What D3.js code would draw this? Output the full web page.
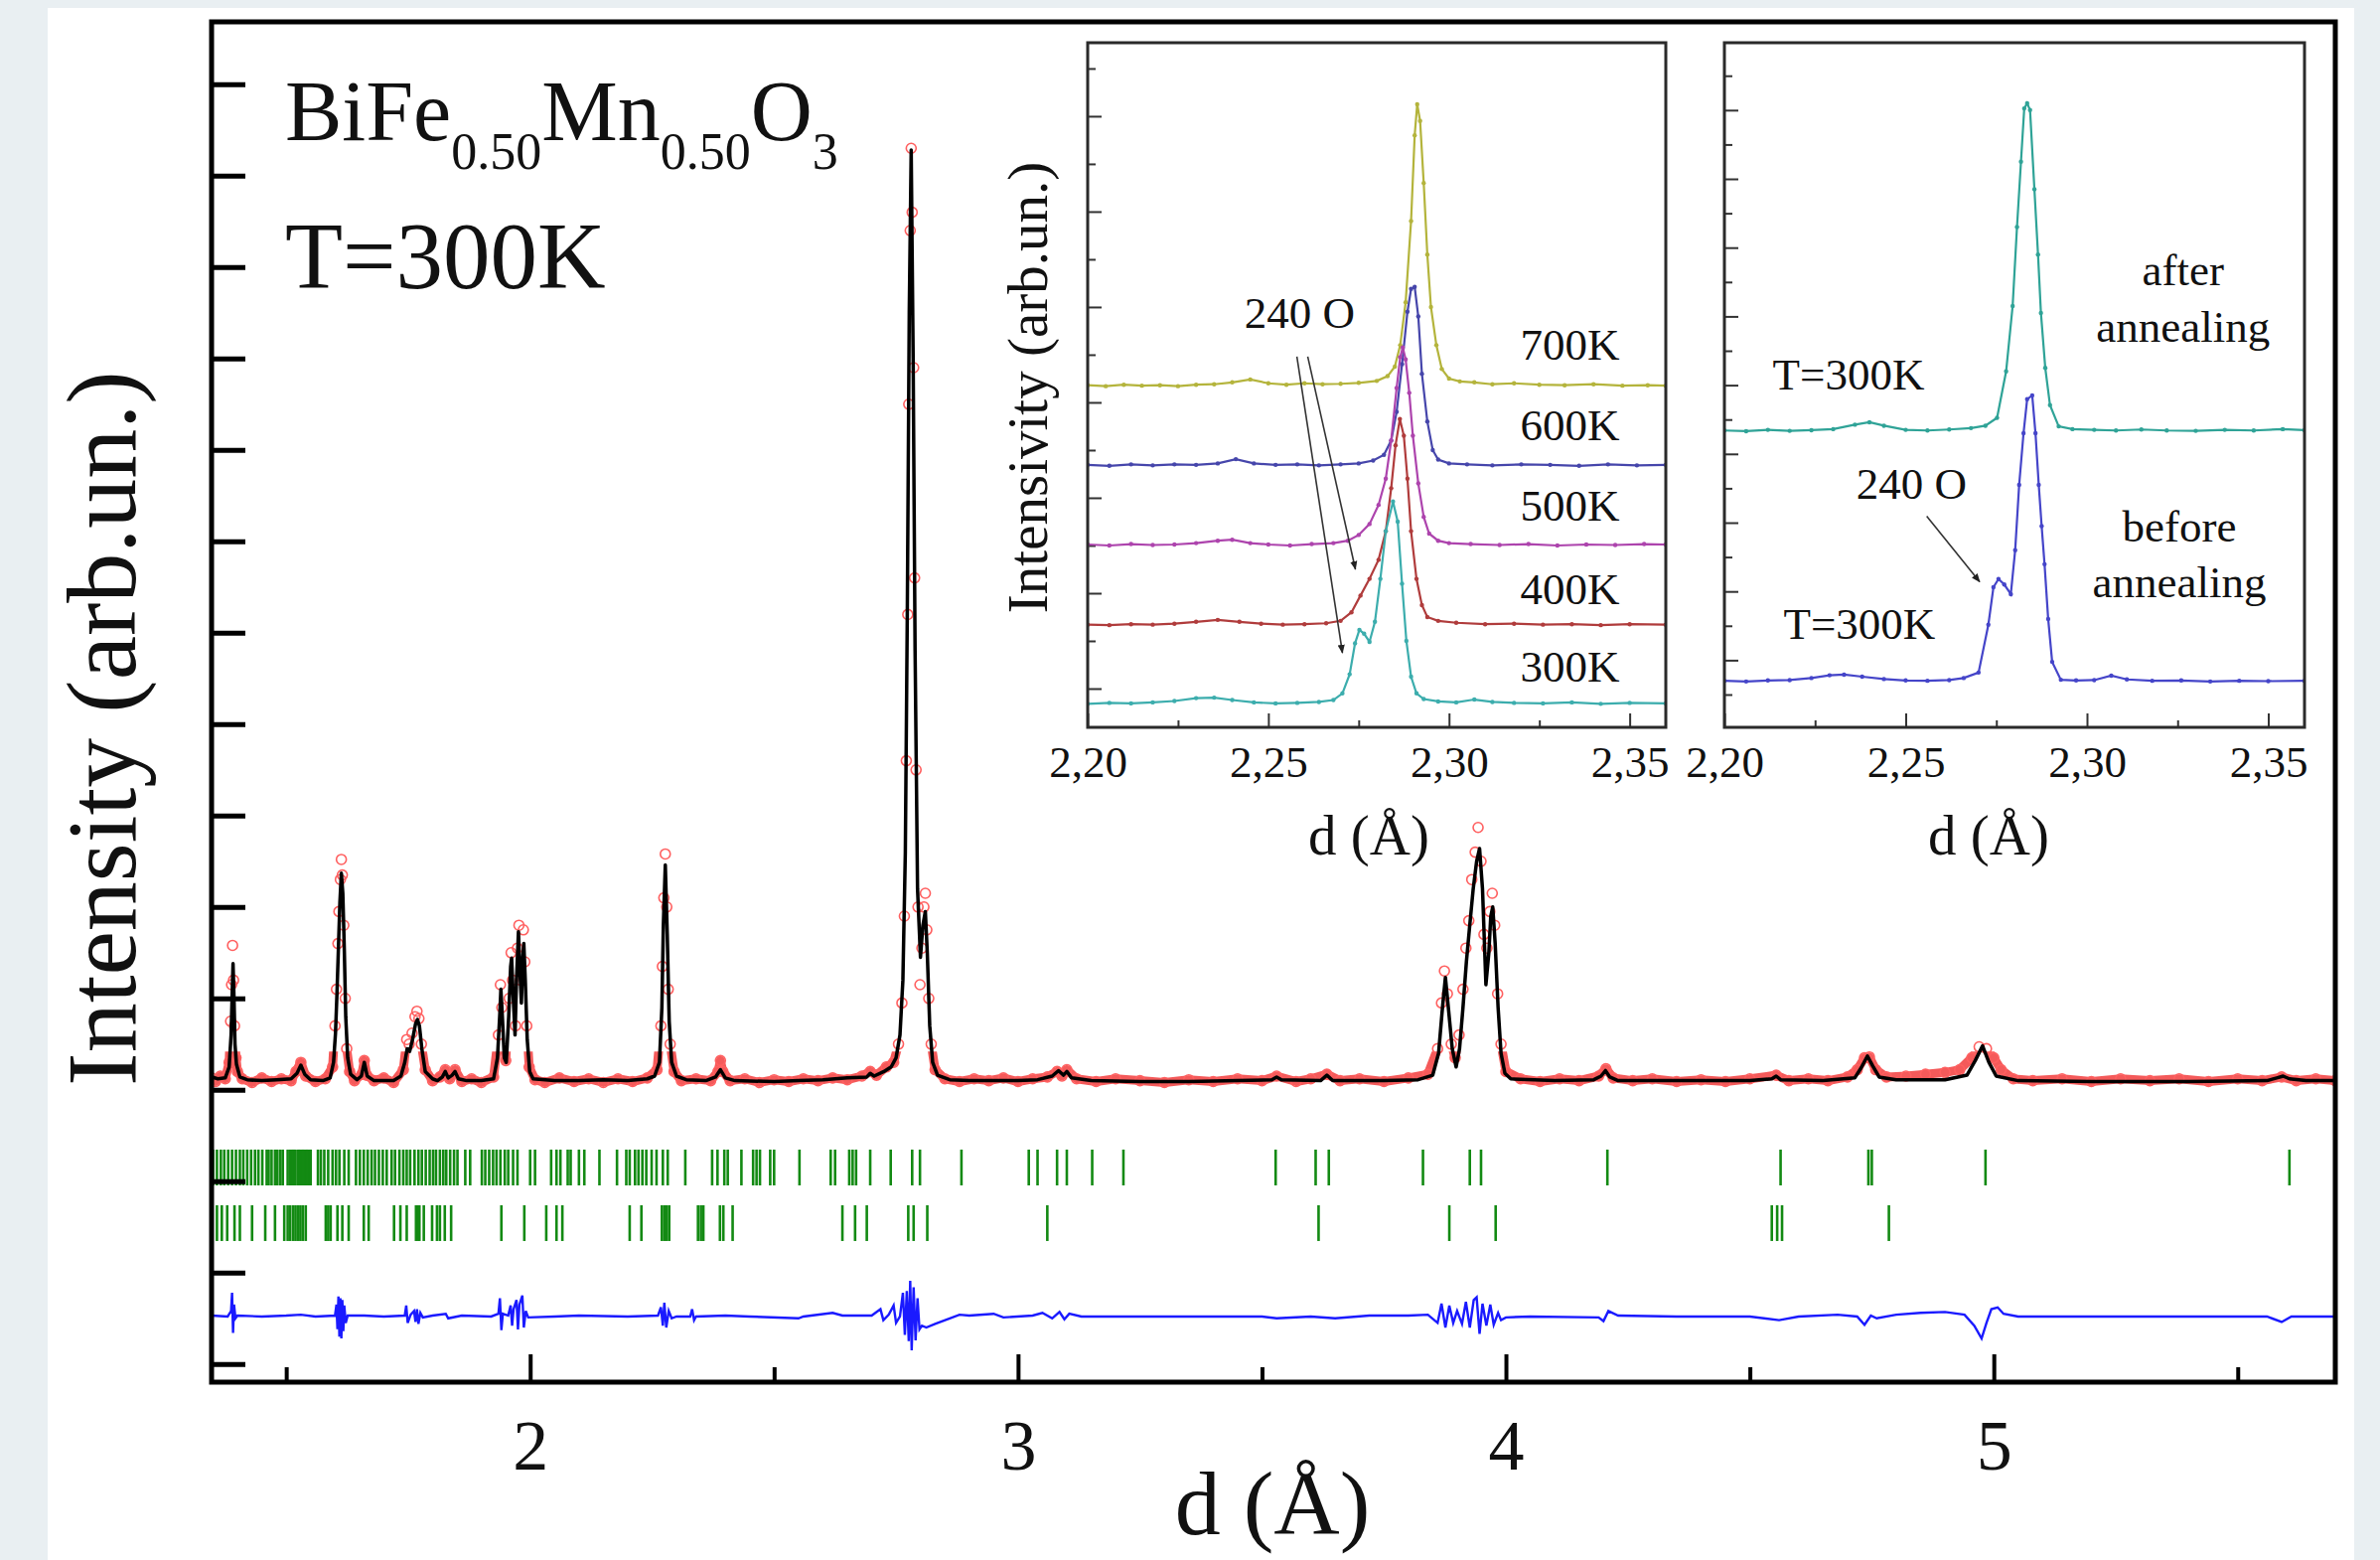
<!DOCTYPE html>
<html>
<head>
<meta charset="utf-8">
<script src="https://cdn.jsdelivr.net/npm/d3@7"></script>
<style>
  html, body { margin: 0; padding: 0; background: #e9eff2; }
  svg { display: block; }
  text { font-family: "Liberation Serif", "Times New Roman", serif; fill: #111; }
</style>
</head>
<body>
<script>

// DATA
// --------------------------------------------------------------------------

// Main pattern, [d (A), intensity]. Calculated profile (black line).
var calcPattern = [
  [1.347,0.14],[1.36,0.12],[1.375,0.13],[1.383,0.25],[1.387,0.6],[1.389,1.0],
  [1.391,1.38],[1.393,1.0],[1.395,0.5],[1.398,0.28],[1.401,0.22],[1.405,0.14],
  [1.42,0.11],[1.45,0.1],[1.48,0.11],[1.51,0.12],[1.522,0.18],[1.53,0.27],
  [1.538,0.17],[1.55,0.11],[1.575,0.1],[1.59,0.13],[1.597,0.3],[1.601,0.62],
  [1.604,1.05],[1.607,1.55],[1.61,2.05],[1.613,2.37],[1.616,2.15],[1.619,1.55],
  [1.622,0.8],[1.626,0.35],[1.632,0.17],[1.645,0.11],[1.654,0.15],[1.66,0.3],
  [1.666,0.15],[1.68,0.1],[1.72,0.1],[1.735,0.15],[1.743,0.3],[1.748,0.45],
  [1.753,0.42],[1.759,0.55],[1.765,0.72],[1.769,0.77],[1.773,0.7],[1.778,0.45],
  [1.785,0.2],[1.8,0.12],[1.81,0.1],[1.82,0.14],[1.826,0.2],[1.832,0.13],
  [1.84,0.16],[1.846,0.2],[1.853,0.12],[1.87,0.1],[1.9,0.1],[1.925,0.12],
  [1.933,0.35],[1.938,0.85],[1.94,1.1],[1.943,0.8],[1.947,0.35],[1.951,0.3],
  [1.956,0.8],[1.96,1.35],[1.962,1.44],[1.965,1.05],[1.969,0.6],[1.972,1.2],
  [1.976,1.73],[1.979,1.3],[1.982,0.95],[1.985,1.45],[1.987,1.6],[1.99,1.2],
  [1.994,0.55],[1.999,0.2],[2.006,0.12],[2.05,0.1],[2.1,0.1],[2.15,0.11],
  [2.2,0.1],[2.24,0.12],[2.255,0.15],[2.265,0.3],[2.27,0.9],[2.273,1.8],
  [2.277,2.46],[2.281,1.7],[2.285,0.75],[2.29,0.3],[2.3,0.15],[2.32,0.11],
  [2.36,0.1],[2.38,0.14],[2.39,0.22],[2.4,0.13],[2.42,0.1],[2.5,0.09],
  [2.55,0.1],[2.6,0.11],[2.65,0.13],[2.69,0.14],[2.697,0.18],[2.705,0.15],
  [2.725,0.2],[2.74,0.25],[2.75,0.35],[2.758,0.6],[2.764,1.2],[2.769,2.6],
  [2.773,5.2],[2.777,8.5],[2.781,10.28],[2.785,8.0],[2.789,4.8],[2.794,2.2],
  [2.8,1.45],[2.805,1.8],[2.81,1.95],[2.814,1.5],[2.819,0.7],[2.825,0.3],
  [2.835,0.16],[2.86,0.11],[2.9,0.1],[2.95,0.1],[3.0,0.1],[3.04,0.11],
  [3.07,0.15],[3.083,0.21],[3.093,0.16],[3.1,0.2],[3.11,0.13],[3.15,0.1],
  [3.25,0.09],[3.35,0.09],[3.45,0.1],[3.52,0.11],[3.53,0.14],[3.54,0.11],
  [3.62,0.1],[3.633,0.16],[3.645,0.1],[3.75,0.1],[3.82,0.11],[3.85,0.16],
  [3.862,0.4],[3.87,0.9],[3.876,1.23],[3.882,0.9],[3.89,0.45],[3.898,0.25],
  [3.905,0.45],[3.912,0.9],[3.919,1.4],[3.925,1.75],[3.933,2.2],[3.94,2.5],
  [3.946,2.64],[3.952,2.2],[3.959,1.15],[3.965,1.5],[3.969,1.9],[3.973,2.0],
  [3.978,1.6],[3.984,0.9],[3.99,0.4],[3.998,0.18],[4.01,0.12],[4.1,0.1],
  [4.18,0.11],[4.195,0.15],[4.204,0.21],[4.213,0.14],[4.23,0.1],[4.35,0.1],
  [4.5,0.1],[4.545,0.12],[4.554,0.15],[4.563,0.11],[4.65,0.1],[4.715,0.13],
  [4.728,0.24],[4.741,0.37],[4.752,0.26],[4.765,0.14],[4.8,0.11],[4.9,0.11],
  [4.945,0.16],[4.962,0.32],[4.977,0.48],[4.99,0.3],[5.005,0.15],[5.05,0.1],
  [5.2,0.09],[5.4,0.09],[5.56,0.1],[5.58,0.13],[5.593,0.15],[5.606,0.12],
  [5.64,0.1],[5.7,0.1]
];

// Observed points (red circles).
var obsPattern = [
  [1.347,0.13],[1.355,0.09],[1.365,0.15],[1.375,0.12],[1.383,0.3],[1.386,0.75],
  [1.388,1.15],[1.39,1.58],[1.392,1.2],[1.394,0.7],[1.397,0.35],[1.4,0.2],
  [1.41,0.12],[1.43,0.08],[1.45,0.13],[1.47,0.09],[1.49,0.12],[1.51,0.1],
  [1.52,0.2],[1.53,0.3],[1.54,0.15],[1.56,0.09],[1.58,0.12],[1.595,0.25],
  [1.6,0.7],[1.603,1.1],[1.606,1.6],[1.608,1.95],[1.611,2.3],[1.613,2.52],
  [1.615,2.35],[1.618,1.8],[1.621,1.0],[1.624,0.45],[1.63,0.2],[1.64,0.1],
  [1.655,0.17],[1.66,0.32],[1.665,0.16],[1.68,0.1],[1.7,0.13],[1.72,0.08],
  [1.74,0.22],[1.747,0.55],[1.752,0.5],[1.758,0.62],[1.764,0.8],[1.768,0.86],
  [1.772,0.78],[1.777,0.5],[1.785,0.22],[1.8,0.1],[1.815,0.14],[1.826,0.22],
  [1.835,0.12],[1.846,0.22],[1.86,0.09],[1.88,0.12],[1.9,0.08],[1.925,0.14],
  [1.935,0.6],[1.939,1.15],[1.942,0.9],[1.95,0.32],[1.957,1.0],[1.961,1.5],
  [1.964,1.2],[1.97,0.7],[1.974,1.55],[1.977,1.8],[1.98,1.2],[1.986,1.75],
  [1.989,1.4],[1.993,0.7],[1.998,0.25],[2.01,0.11],[2.03,0.08],[2.06,0.13],
  [2.09,0.09],[2.12,0.12],[2.15,0.08],[2.18,0.12],[2.21,0.09],[2.24,0.13],
  [2.26,0.22],[2.268,0.7],[2.271,1.35],[2.274,2.1],[2.277,2.58],[2.28,2.0],
  [2.283,1.1],[2.287,0.5],[2.295,0.2],[2.31,0.1],[2.34,0.12],[2.37,0.1],
  [2.385,0.2],[2.39,0.32],[2.395,0.2],[2.41,0.1],[2.44,0.12],[2.47,0.08],
  [2.5,0.11],[2.53,0.09],[2.56,0.12],[2.59,0.1],[2.62,0.13],[2.65,0.11],
  [2.68,0.15],[2.697,0.2],[2.71,0.16],[2.73,0.25],[2.745,0.3],[2.755,0.5],
  [2.762,0.95],[2.767,1.9],[2.771,3.6],[2.774,5.2],[2.776,7.5],[2.779,9.4],
  [2.781,10.3],[2.783,9.6],[2.786,7.9],[2.788,5.6],[2.791,3.5],[2.795,2.0],
  [2.799,1.15],[2.803,1.55],[2.807,2.0],[2.81,2.15],[2.813,1.75],[2.817,1.0],
  [2.822,0.5],[2.83,0.22],[2.85,0.12],[2.88,0.09],[2.91,0.12],[2.94,0.1],
  [2.97,0.13],[3.0,0.09],[3.03,0.12],[3.06,0.14],[3.08,0.2],[3.09,0.15],
  [3.1,0.22],[3.12,0.12],[3.16,0.09],[3.2,0.12],[3.25,0.1],[3.3,0.08],
  [3.35,0.11],[3.4,0.09],[3.45,0.12],[3.5,0.1],[3.53,0.15],[3.57,0.09],
  [3.6,0.12],[3.633,0.17],[3.66,0.1],[3.7,0.12],[3.75,0.09],[3.8,0.13],
  [3.84,0.17],[3.86,0.45],[3.868,0.95],[3.874,1.3],[3.88,1.05],[3.888,0.5],
  [3.896,0.35],[3.904,0.6],[3.912,1.1],[3.918,1.55],[3.924,1.85],[3.93,2.3],
  [3.937,2.6],[3.943,2.87],[3.949,2.5],[3.955,1.7],[3.961,1.55],[3.967,1.95],
  [3.972,2.15],[3.977,1.8],[3.983,1.05],[3.99,0.5],[4.0,0.2],[4.03,0.12],
  [4.07,0.09],[4.11,0.12],[4.15,0.1],[4.19,0.15],[4.205,0.23],[4.22,0.13],
  [4.26,0.1],[4.3,0.12],[4.35,0.09],[4.4,0.11],[4.45,0.09],[4.5,0.12],
  [4.554,0.16],[4.58,0.1],[4.62,0.12],[4.66,0.1],[4.7,0.14],[4.72,0.22],
  [4.735,0.35],[4.745,0.36],[4.758,0.22],[4.78,0.14],[4.82,0.15],[4.86,0.17],
  [4.9,0.19],[4.93,0.22],[4.955,0.35],[4.97,0.47],[4.985,0.45],[5.0,0.35],
  [5.015,0.22],[5.04,0.12],[5.08,0.1],[5.14,0.12],[5.2,0.09],[5.26,0.12],
  [5.32,0.1],[5.38,0.12],[5.44,0.09],[5.5,0.12],[5.55,0.1],[5.59,0.14],
  [5.62,0.1],[5.66,0.12],[5.7,0.1]
];

// Difference curve (blue), already shifted below the pattern.
var diffPattern = [
  [1.347,-2.47],[1.38,-2.48],[1.387,-2.42],[1.389,-2.22],[1.391,-2.66],
  [1.393,-2.35],[1.396,-2.5],[1.4,-2.47],[1.45,-2.48],[1.5,-2.47],[1.53,-2.46],
  [1.56,-2.48],[1.6,-2.47],[1.603,-2.35],[1.605,-2.62],[1.607,-2.26],
  [1.609,-2.7],[1.611,-2.28],[1.613,-2.72],[1.615,-2.3],[1.617,-2.64],
  [1.619,-2.36],[1.622,-2.55],[1.626,-2.47],[1.66,-2.47],[1.7,-2.48],
  [1.743,-2.47],[1.746,-2.36],[1.749,-2.55],[1.755,-2.46],[1.762,-2.42],
  [1.765,-2.54],[1.768,-2.4],[1.771,-2.56],[1.775,-2.44],[1.78,-2.49],
  [1.8,-2.47],[1.827,-2.45],[1.832,-2.5],[1.86,-2.47],[1.92,-2.48],
  [1.935,-2.45],[1.938,-2.28],[1.941,-2.63],[1.944,-2.45],[1.955,-2.47],
  [1.96,-2.36],[1.963,-2.58],[1.966,-2.4],[1.972,-2.3],[1.975,-2.62],
  [1.978,-2.35],[1.984,-2.25],[1.987,-2.6],[1.991,-2.42],[1.996,-2.49],
  [2.05,-2.48],[2.1,-2.47],[2.2,-2.48],[2.262,-2.47],[2.268,-2.38],
  [2.272,-2.58],[2.275,-2.33],[2.279,-2.6],[2.284,-2.42],[2.29,-2.5],
  [2.3,-2.48],[2.328,-2.48],[2.332,-2.4],[2.336,-2.52],[2.34,-2.48],
  [2.4,-2.47],[2.45,-2.48],[2.55,-2.5],[2.56,-2.48],[2.62,-2.44],[2.64,-2.47],
  [2.7,-2.47],[2.718,-2.4],[2.724,-2.52],[2.735,-2.46],[2.745,-2.36],
  [2.75,-2.55],[2.758,-2.48],[2.764,-2.22],[2.768,-2.68],[2.772,-2.2],
  [2.776,-2.75],[2.779,-2.09],[2.782,-2.85],[2.786,-2.16],[2.79,-2.74],
  [2.794,-2.28],[2.798,-2.62],[2.803,-2.58],[2.812,-2.6],[2.83,-2.56],
  [2.86,-2.5],[2.88,-2.46],[2.9,-2.47],[2.95,-2.45],[2.97,-2.49],[3.03,-2.47],
  [3.05,-2.44],[3.07,-2.5],[3.085,-2.43],[3.095,-2.51],[3.105,-2.45],
  [3.13,-2.48],[3.3,-2.48],[3.5,-2.48],[3.53,-2.5],[3.6,-2.48],[3.65,-2.5],
  [3.72,-2.47],[3.8,-2.47],[3.84,-2.46],[3.86,-2.55],[3.868,-2.34],
  [3.876,-2.6],[3.884,-2.36],[3.892,-2.55],[3.9,-2.42],[3.91,-2.56],
  [3.918,-2.32],[3.926,-2.6],[3.934,-2.3],[3.94,-2.27],[3.946,-2.67],
  [3.952,-2.34],[3.96,-2.58],[3.968,-2.35],[3.975,-2.57],[3.984,-2.44],
  [3.99,-2.52],[4.0,-2.49],[4.05,-2.48],[4.19,-2.49],[4.2,-2.53],[4.21,-2.42],
  [4.23,-2.47],[4.35,-2.48],[4.5,-2.48],[4.56,-2.52],[4.6,-2.48],[4.68,-2.46],
  [4.72,-2.48],[4.735,-2.57],[4.748,-2.47],[4.76,-2.5],[4.8,-2.46],
  [4.85,-2.44],[4.9,-2.43],[4.94,-2.46],[4.96,-2.58],[4.975,-2.72],
  [4.985,-2.55],[4.995,-2.4],[5.008,-2.38],[5.02,-2.45],[5.05,-2.48],
  [5.2,-2.48],[5.4,-2.48],[5.56,-2.48],[5.59,-2.54],[5.61,-2.48],[5.7,-2.48]
];

// Bragg reflection positions, two phases (green ticks).
var phase1Ticks = [
  1.350,1.358,1.366,1.373,1.381,1.389,1.397,1.405,1.412,1.420,1.428,1.436,
  1.443,1.451,1.460,1.464,1.470,1.477,1.482,1.488,1.493,1.503,1.508,1.511,
  1.514,1.517,1.519,1.524,1.527,1.529,1.532,1.534,1.537,1.540,1.543,1.545,
  1.548,1.550,1.565,1.571,1.578,1.586,1.595,1.602,1.609,1.619,1.628,1.643,
  1.651,1.659,1.667,1.675,1.682,1.690,1.698,1.706,1.716,1.723,1.732,1.740,
  1.747,1.754,1.763,1.771,1.778,1.786,1.794,1.801,1.807,1.815,1.822,1.828,
  1.836,1.844,1.851,1.867,1.877,1.901,1.908,1.916,1.924,1.931,1.939,1.948,
  1.955,1.965,1.974,2.000,2.010,2.043,2.054,2.062,2.077,2.083,2.100,2.111,
  2.142,2.178,2.197,2.204,2.215,2.222,2.230,2.238,2.249,2.259,2.272,2.282,
  2.318,2.373,2.384,2.398,2.405,2.433,2.457,2.464,2.471,2.492,2.500,2.552,
  2.616,2.625,2.654,2.661,2.668,2.697,2.739,2.783,2.799,2.884,3.022,3.040,
  3.080,3.100,3.152,3.216,3.528,3.610,3.637,3.830,3.926,3.949,4.208,4.563,
  4.743,4.750,4.983,5.606
];
var phase2Ticks = [
  1.358,1.368,1.379,1.394,1.405,1.430,1.457,1.477,1.496,1.503,1.508,1.514,
  1.519,1.524,1.529,1.534,1.540,1.581,1.586,1.591,1.605,1.615,1.628,1.659,
  1.669,1.721,1.734,1.747,1.766,1.770,1.773,1.782,1.799,1.809,1.815,1.825,
  1.838,1.941,1.988,2.033,2.054,2.066,2.204,2.228,2.270,2.275,2.280,2.285,
  2.344,2.350,2.355,2.389,2.396,2.415,2.640,2.666,2.690,2.775,2.786,2.814,
  3.060,3.616,3.884,3.979,4.545,4.556,4.566,4.785
];

var mainXTicks = [2, 3, 4, 5];
var mainXMinor = [1.5, 2.5, 3.5, 4.5, 5.5];
var mainYTicks = d3.range(-3, 12);

// Inset 1: the 240 O region vs temperature.
var tempLabels = ['700K', '600K', '500K', '400K', '300K'];
var tempColors = ['#b4b43c', '#4646ab', '#ad44ad', '#b03c3c', '#3cadad'];

var scan700 = [
  [2.2,7.36],[2.205,7.34],[2.21,7.37],[2.215,7.35],[2.22,7.36],[2.225,7.34],
  [2.23,7.37],[2.235,7.38],[2.24,7.42],[2.245,7.48],[2.25,7.4],[2.255,7.37],
  [2.26,7.4],[2.265,7.38],[2.27,7.39],[2.275,7.41],[2.28,7.45],[2.283,7.55],
  [2.285,7.75],[2.2865,8.2],[2.288,9.1],[2.2895,10.8],[2.2905,12.6],
  [2.2912,13.25],[2.292,12.9],[2.293,11.6],[2.294,10.1],[2.295,9.0],
  [2.2965,8.2],[2.298,7.7],[2.3,7.5],[2.303,7.44],[2.307,7.42],[2.312,7.38],
  [2.318,7.4],[2.325,7.37],[2.332,7.36],[2.34,7.38],[2.348,7.35],[2.355,7.36],
  [2.36,7.35]
];
var scan600 = [
  [2.2,5.69],[2.206,5.67],[2.212,5.7],[2.218,5.68],[2.224,5.7],[2.23,5.69],
  [2.236,5.72],[2.241,5.81],[2.246,5.72],[2.252,5.69],[2.258,5.7],[2.264,5.68],
  [2.27,5.7],[2.275,5.72],[2.279,5.78],[2.282,5.9],[2.284,6.2],[2.2855,6.8],
  [2.287,7.8],[2.2885,8.9],[2.2895,9.38],[2.2905,9.42],[2.2915,8.8],
  [2.2925,7.6],[2.294,6.6],[2.2955,6.0],[2.297,5.8],[2.3,5.72],[2.305,5.7],
  [2.312,5.68],[2.32,5.7],[2.328,5.69],[2.336,5.67],[2.344,5.7],[2.352,5.68],
  [2.36,5.69]
];
var scan500 = [
  [2.2,4.02],[2.206,4.0],[2.212,4.03],[2.218,4.01],[2.224,4.02],[2.23,4.05],
  [2.236,4.1],[2.24,4.12],[2.245,4.05],[2.25,4.02],[2.256,4.0],[2.262,4.03],
  [2.268,4.05],[2.272,4.1],[2.275,4.22],[2.278,4.45],[2.2805,4.85],
  [2.2825,5.4],[2.284,6.2],[2.2855,7.3],[2.2865,7.95],[2.2872,8.15],
  [2.288,7.9],[2.289,7.2],[2.29,6.3],[2.2915,5.3],[2.293,4.6],[2.2945,4.25],
  [2.297,4.1],[2.3,4.05],[2.306,4.03],[2.314,4.01],[2.322,4.03],[2.33,4.0],
  [2.338,4.02],[2.346,4.01],[2.354,4.03],[2.36,4.02]
];
var scan400 = [
  [2.2,2.34],[2.206,2.33],[2.212,2.35],[2.218,2.34],[2.224,2.36],[2.23,2.4],
  [2.236,2.44],[2.242,2.4],[2.248,2.36],[2.254,2.34],[2.26,2.35],[2.266,2.37],
  [2.27,2.42],[2.273,2.6],[2.2755,2.95],[2.278,3.3],[2.2805,3.7],[2.2825,4.3],
  [2.284,5.2],[2.2852,6.1],[2.2864,6.65],[2.2875,6.3],[2.2885,5.4],
  [2.2895,4.3],[2.291,3.3],[2.2925,2.75],[2.294,2.5],[2.297,2.42],
  [2.302,2.38],[2.31,2.35],[2.318,2.36],[2.326,2.34],[2.334,2.35],
  [2.342,2.33],[2.35,2.35],[2.36,2.34]
];
var scan300 = [
  [2.2,0.68],[2.206,0.7],[2.212,0.69],[2.218,0.71],[2.224,0.74],[2.23,0.8],
  [2.235,0.81],[2.24,0.76],[2.246,0.71],[2.252,0.69],[2.258,0.7],[2.264,0.72],
  [2.268,0.76],[2.2705,0.9],[2.2725,1.3],[2.274,1.95],[2.2752,2.23],
  [2.2765,2.15],[2.278,1.98],[2.2795,2.4],[2.281,3.3],[2.2825,4.3],
  [2.2845,4.92],[2.2858,4.5],[2.287,3.2],[2.2882,2.0],[2.2895,1.25],
  [2.291,0.9],[2.293,0.78],[2.297,0.73],[2.302,0.71],[2.307,0.77],
  [2.312,0.72],[2.318,0.7],[2.326,0.69],[2.334,0.71],[2.342,0.68],[2.35,0.7],
  [2.36,0.69]
];

// Inset 2: before / after annealing at 300K.
var scanAfter = [
  [2.2,8.68],[2.206,8.66],[2.212,8.7],[2.218,8.67],[2.224,8.69],[2.23,8.72],
  [2.236,8.85],[2.24,8.92],[2.244,8.82],[2.25,8.7],[2.256,8.68],[2.262,8.71],
  [2.268,8.75],[2.272,8.82],[2.2752,9.05],[2.2777,10.4],[2.2795,12.3],
  [2.2807,14.6],[2.2818,16.5],[2.2827,18.05],[2.2835,18.2],[2.2843,18.0],
  [2.2855,15.7],[2.2865,13.8],[2.2873,12.1],[2.2885,10.5],[2.2898,9.42],
  [2.2922,8.8],[2.296,8.72],[2.302,8.7],[2.308,8.68],[2.315,8.71],
  [2.322,8.68],[2.33,8.67],[2.338,8.7],[2.346,8.68],[2.354,8.72],[2.36,8.69]
];
var scanBefore = [
  [2.2,1.4],[2.206,1.38],[2.212,1.41],[2.218,1.42],[2.224,1.48],[2.229,1.56],
  [2.233,1.58],[2.238,1.52],[2.244,1.45],[2.25,1.41],[2.256,1.4],[2.262,1.42],
  [2.266,1.48],[2.2701,1.64],[2.2728,3.03],[2.2742,4.12],[2.2756,4.36],
  [2.2772,4.2],[2.279,3.92],[2.2802,5.2],[2.2813,7.1],[2.2825,8.6],
  [2.2835,9.59],[2.2849,9.7],[2.2858,8.6],[2.2867,7.1],[2.2875,5.9],
  [2.2883,4.79],[2.2893,3.2],[2.2904,1.95],[2.2928,1.43],[2.297,1.41],
  [2.302,1.42],[2.3067,1.55],[2.311,1.44],[2.318,1.4],[2.326,1.41],
  [2.334,1.38],[2.342,1.4],[2.35,1.39],[2.36,1.4]
];

var insetXTicks = [2.20, 2.25, 2.30, 2.35];
var insetXMinor = [2.225, 2.275, 2.325];


// SETUP
// --------------------------------------------------------------------------

var W = 2396, H = 1570;

var svg = d3.select('body').append('svg')
  .attr('width', W).attr('height', H);

svg.append('rect')
  .attr('x', 48).attr('y', 8).attr('width', 2322).attr('height', H - 8)
  .attr('fill', '#fff');

var defs = svg.append('defs');

defs.append('marker')
  .attr('id', 'arrow')
  .attr('viewBox', '0 0 10 10')
  .attr('refX', 9).attr('refY', 5)
  .attr('markerWidth', 9).attr('markerHeight', 9)
  .attr('markerUnits', 'userSpaceOnUse')
  .attr('orient', 'auto')
  .append('path')
  .attr('d', 'M0,1 L10,5 L0,9 Z')
  .attr('fill', '#222');

function addClip(id, x0, y0, x1, y1) {
  defs.append('clipPath').attr('id', id)
    .append('rect')
    .attr('x', x0).attr('y', y0)
    .attr('width', x1 - x0).attr('height', y1 - y0);
}


// MAIN PLOT
// --------------------------------------------------------------------------

var M = { left: 213, right: 2351, top: 22, bottom: 1391 };

var x = d3.scaleLinear().domain([1.347, 5.70]).range([M.left, M.right]);
var y = d3.scaleLinear().domain([-3.198, 11.683]).range([M.bottom, M.top]);

addClip('clip-main', M.left, M.top, M.right, M.bottom);

// The dense run of observed points only merges into a band near background.
addClip('clip-band', M.left, y(0.42), M.right, y(-0.2));

var line = d3.line()
  .x(function(d) { return x(d[0]); })
  .y(function(d) { return y(d[1]); });

var plot = svg.append('g').attr('clip-path', 'url(#clip-main)');

// Y ticks, inward, no labels.
svg.append('g')
  .attr('transform', 'translate(' + M.left + ',0)')
  .call(d3.axisLeft(y).tickValues(mainYTicks)
    .tickSizeInner(-34).tickSizeOuter(0).tickFormat(''))
  .call(function(g) {
    g.select('.domain').remove();
    g.selectAll('line').attr('stroke', '#000').attr('stroke-width', 5);
  });

// Bragg ticks.
function drawBragg(list, v0, v1) {
  plot.append('g').selectAll('line')
    .data(list).enter().append('line')
    .attr('x1', function(d) { return x(d); })
    .attr('x2', function(d) { return x(d); })
    .attr('y1', y(v0)).attr('y2', y(v1))
    .attr('stroke', '#138a13').attr('stroke-width', 2.6);
}
drawBragg(phase1Ticks, -0.654, -1.046);
drawBragg(phase2Ticks, -1.263, -1.654);

// Observed: a red band at background level plus open circles.
plot.append('g').attr('clip-path', 'url(#clip-band)')
  .append('path')
  .datum(obsPattern)
  .attr('d', line)
  .attr('fill', 'none')
  .attr('stroke', '#f01414').attr('stroke-opacity', 0.7)
  .attr('stroke-width', 9).attr('stroke-linejoin', 'round');

plot.append('g').selectAll('circle')
  .data(obsPattern).enter().append('circle')
  .attr('cx', function(d) { return x(d[0]); })
  .attr('cy', function(d) { return y(d[1]); })
  .attr('r', 5)
  .attr('fill', 'none')
  .attr('stroke', '#ff6060').attr('stroke-width', 1.6);

// Calculated profile.
plot.append('path')
  .datum(calcPattern)
  .attr('d', line)
  .attr('fill', 'none')
  .attr('stroke', '#000').attr('stroke-width', 3.5)
  .attr('stroke-linejoin', 'round');

// Difference curve.
plot.append('path')
  .datum(diffPattern)
  .attr('d', line)
  .attr('fill', 'none')
  .attr('stroke', '#1a1aff').attr('stroke-width', 2.4);

// X axis: major ticks with labels, minor ticks without.
var xAxis = svg.append('g')
  .attr('transform', 'translate(0,' + M.bottom + ')')
  .call(d3.axisBottom(x).tickValues(mainXTicks)
    .tickSizeInner(-28).tickSizeOuter(0).tickFormat(d3.format('d')));
xAxis.select('.domain').remove();
xAxis.selectAll('line').attr('stroke', '#000').attr('stroke-width', 4);
xAxis.selectAll('text')
  .attr('y', 88).attr('dy', null)
  .style('font-family', '"Liberation Serif", serif')
  .style('font-size', '72px').attr('fill', '#111');

svg.append('g')
  .attr('transform', 'translate(0,' + M.bottom + ')')
  .call(d3.axisBottom(x).tickValues(mainXMinor)
    .tickSizeInner(-15).tickSizeOuter(0).tickFormat(''))
  .call(function(g) {
    g.select('.domain').remove();
    g.selectAll('line').attr('stroke', '#000').attr('stroke-width', 4);
  });

// Frame.
svg.append('rect')
  .attr('x', M.left).attr('y', M.top)
  .attr('width', M.right - M.left).attr('height', M.bottom - M.top)
  .attr('fill', 'none').attr('stroke', '#000').attr('stroke-width', 5);

// Axis titles.
svg.append('text')
  .attr('x', 1281).attr('y', 1544)
  .attr('text-anchor', 'middle')
  .style('font-size', '92px')
  .text('d (Å)');

svg.append('text')
  .attr('transform', 'translate(136,733) rotate(-90)')
  .attr('text-anchor', 'middle')
  .style('font-size', '100px')
  .text('Intensity (arb.un.)');

// Compound and temperature.
var title = svg.append('text')
  .attr('x', 287).attr('y', 141)
  .style('font-size', '86px');
title.append('tspan').text('BiFe');
title.append('tspan').attr('dy', 29).style('font-size', '52px').text('0.50');
title.append('tspan').attr('dy', -29).text('Mn');
title.append('tspan').attr('dy', 29).style('font-size', '52px').text('0.50');
title.append('tspan').attr('dy', -29).text('O');
title.append('tspan').attr('dy', 29).style('font-size', '52px').text('3');

svg.append('text')
  .attr('x', 287).attr('y', 290)
  .style('font-size', '95px')
  .text('T=300K');


// INSETS
// --------------------------------------------------------------------------

/**
 * Draw one inset panel and return its scales and group.
 */
function drawInset(opts) {

  var ix = d3.scaleLinear().domain([2.20, 2.36]).range([opts.x0, opts.x1]);
  var iy = d3.scaleLinear().domain(opts.yDomain).range([opts.y1, opts.y0]);
  var g = svg.append('g');

  g.append('rect')
    .attr('x', opts.x0).attr('y', opts.y0)
    .attr('width', opts.x1 - opts.x0).attr('height', opts.y1 - opts.y0)
    .attr('fill', '#fff');

  // Y ticks, alternating long and short.
  [[opts.yLong, -14], [opts.yShort, -8]].forEach(function(t) {
    g.append('g')
      .attr('transform', 'translate(' + opts.x0 + ',0)')
      .call(d3.axisLeft(iy).tickValues(t[0])
        .tickSizeInner(t[1]).tickSizeOuter(0).tickFormat(''))
      .call(function(a) {
        a.select('.domain').remove();
        a.selectAll('line').attr('stroke', '#333').attr('stroke-width', 2);
      });
  });

  // X ticks and labels.
  var ax = g.append('g')
    .attr('transform', 'translate(0,' + opts.y1 + ')')
    .call(d3.axisBottom(ix).tickValues(insetXTicks)
      .tickSizeInner(-14).tickSizeOuter(0)
      .tickFormat(function(d) { return d3.format('.2f')(d).replace('.', ','); }));
  ax.select('.domain').remove();
  ax.selectAll('line').attr('stroke', '#333').attr('stroke-width', 2);
  ax.selectAll('text')
    .attr('y', 50).attr('dy', null)
    .style('font-family', '"Liberation Serif", serif')
    .style('font-size', '45px').attr('fill', '#111');

  g.append('g')
    .attr('transform', 'translate(0,' + opts.y1 + ')')
    .call(d3.axisBottom(ix).tickValues(insetXMinor)
      .tickSizeInner(-7).tickSizeOuter(0).tickFormat(''))
    .call(function(a) {
      a.select('.domain').remove();
      a.selectAll('line').attr('stroke', '#333').attr('stroke-width', 2);
    });

  var clipId = 'clip-' + opts.id;
  addClip(clipId, opts.x0, opts.y0, opts.x1, opts.y1);
  var body = g.append('g').attr('clip-path', 'url(#' + clipId + ')');

  var iline = d3.line()
    .x(function(d) { return ix(d[0]); })
    .y(function(d) { return iy(d[1]); });

  opts.series.forEach(function(s) {
    body.append('path')
      .datum(s.data)
      .attr('d', iline)
      .attr('fill', 'none')
      .attr('stroke', s.color).attr('stroke-width', 2.2);
    body.append('g').selectAll('circle')
      .data(s.data).enter().append('circle')
      .attr('cx', function(d) { return ix(d[0]); })
      .attr('cy', function(d) { return iy(d[1]); })
      .attr('r', 2.2).attr('fill', s.color);
  });

  g.append('rect')
    .attr('x', opts.x0).attr('y', opts.y0)
    .attr('width', opts.x1 - opts.x0).attr('height', opts.y1 - opts.y0)
    .attr('fill', 'none').attr('stroke', '#2a2a2a').attr('stroke-width', 3);

  g.append('text')
    .attr('x', (opts.x0 + opts.x1) / 2 + opts.labelShift).attr('y', 860)
    .attr('text-anchor', 'middle')
    .style('font-size', '57px')
    .text('d (Å)');

  return { x: ix, y: iy, g: g };
}

function label(p, d, v, txt, anchor) {
  p.g.append('text')
    .attr('x', p.x(d)).attr('y', p.y(v))
    .attr('text-anchor', anchor || 'start')
    .style('font-size', '45px')
    .text(txt);
}

function arrow(p, d0, v0, d1, v1) {
  p.g.append('line')
    .attr('x1', p.x(d0)).attr('y1', p.y(v0))
    .attr('x2', p.x(d1)).attr('y2', p.y(v1))
    .attr('stroke', '#333').attr('stroke-width', 1.6)
    .attr('marker-end', 'url(#arrow)');
}

// Inset 1: temperature series.
var tempScans = [scan700, scan600, scan500, scan400, scan300];

var inset1 = drawInset({
  id: 'temp',
  x0: 1095, x1: 1677, y0: 43, y1: 732,
  yDomain: [0.1875, 14.54],
  yLong: [1, 3, 5, 7, 9, 11, 13],
  yShort: [2, 4, 6, 8, 10, 12, 14],
  labelShift: -8,
  series: tempScans.map(function(s, i) {
    return { data: s, color: tempColors[i] };
  })
});

var tempLabelV = [7.90, 6.21, 4.52, 2.77, 1.15];
tempLabels.forEach(function(t, i) {
  label(inset1, 2.3197, tempLabelV[i], t);
});
label(inset1, 2.2434, 8.56, '240 O');
arrow(inset1, 2.2579, 7.96, 2.2705, 1.75);
arrow(inset1, 2.2609, 7.96, 2.2741, 3.5);

svg.append('text')
  .attr('transform', 'translate(1054,390) rotate(-90)')
  .attr('text-anchor', 'middle')
  .style('font-size', '57px')
  .text('Intensivity (arb.un.)');

// Inset 2: annealing.
var inset2 = drawInset({
  id: 'anneal',
  x0: 1736, x1: 2320, y0: 43, y1: 732,
  yDomain: [0.046, 19.96],
  yLong: [2, 4, 6, 8, 10, 12, 14, 16, 18],
  yShort: [1, 3, 5, 7, 9, 11, 13, 15, 17, 19],
  labelShift: -26,
  series: [
    { data: scanAfter, color: '#2fa397' },
    { data: scanBefore, color: '#4545c9' }
  ]
});

label(inset2, 2.3265, 12.9, 'after', 'middle');
label(inset2, 2.3265, 11.26, 'annealing', 'middle');
label(inset2, 2.2133, 9.87, 'T=300K');
label(inset2, 2.2364, 6.69, '240 O');
arrow(inset2, 2.2558, 6.19, 2.2704, 4.28);
label(inset2, 2.3255, 5.45, 'before', 'middle');
label(inset2, 2.3255, 3.82, 'annealing', 'middle');
label(inset2, 2.2163, 2.62, 'T=300K');

</script>
</body>
</html>
